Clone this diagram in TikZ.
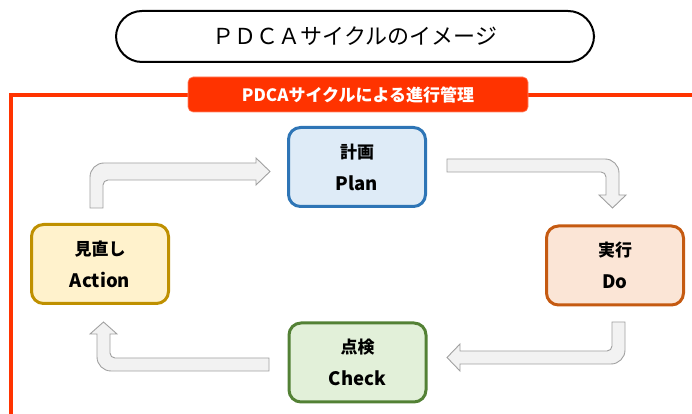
\documentclass[tikz,border=0pt]{standalone}
\usepackage{fontspec}
\setmainfont{Noto Sans CJK JP}
\usetikzlibrary{calc}
\definecolor{frameorange}{HTML}{FF3300}
\definecolor{planfill}{HTML}{DEEBF7}\definecolor{plandraw}{HTML}{2E75B6}
\definecolor{dofill}{HTML}{FBE5D6}\definecolor{dodraw}{HTML}{C55A11}
\definecolor{checkfill}{HTML}{E2F0D9}\definecolor{checkdraw}{HTML}{538135}
\definecolor{actfill}{HTML}{FFF2CC}\definecolor{actdraw}{HTML}{BF9000}
\definecolor{arrfill}{HTML}{F2F2F2}\definecolor{arrdraw}{HTML}{A0A0A0}
\tikzset{
  stagebox/.style={rectangle, rounded corners=12pt, line width=3pt, minimum width=137pt, minimum height=79pt, inner sep=0pt},
  jptext/.style={font=\fontsize{17}{20}\selectfont\bfseries, inner sep=0pt},
  entext/.style={font=\fontsize{18.5}{21}\selectfont\bfseries, inner sep=0pt},
  blockarrow/.style={fill=arrfill, draw=arrdraw, line width=0.9pt, line join=miter},
}
\begin{document}
\begin{tikzpicture}[x=1pt,y=1pt]
\useasboundingbox (0,0) rectangle (692,414);
% title
\node[draw=black, line width=2pt, fill=white, rounded corners=26pt, minimum width=478pt, minimum height=51pt, inner sep=0pt,
  font=\fontsize{22}{25}\selectfont] (title) at (355,377.5) {ＰＤＣＡサイクルのイメージ};
% frame
\draw[frameorange, line width=4pt] (692,319) -- (11,319) -- (11,0);
\node[fill=frameorange, draw=frameorange!60!white, line width=0.6pt, rounded corners=5pt, minimum width=340pt, minimum height=35pt, inner sep=0pt,
  text=white, font=\fontsize{17}{20}\selectfont\bfseries] (label) at (358,319.5) {PDCAサイクルによる進行管理};
% stage boxes
\node[stagebox, fill=planfill, draw=plandraw] (plan) at (357,247) {};
\node[stagebox, fill=dofill, draw=dodraw] (do) at (615,148.5) {};
\node[stagebox, fill=checkfill, draw=checkdraw] (check) at (357.5,51.5) {};
\node[stagebox, fill=actfill, draw=actdraw] (act) at (100,150) {};
\node[jptext] (planjp) at ([yshift=15]plan.center) {計画};
\node[entext] (planen) at ([yshift=-16]plan.center) {Plan};
\node[jptext] (dojp) at ([yshift=15]do.center) {実行};
\node[entext] (doen) at ([yshift=-16]do.center) {Do};
\node[jptext] (checkjp) at ([yshift=15]check.center) {点検};
\node[entext] (checken) at ([yshift=-16]check.center) {Check};
\node[jptext] (actjp) at ([yshift=15]act.center) {見直し};
\node[entext] (acten) at ([yshift=-16]act.center) {Action};
% block arrows
% Action -> Plan
\draw[blockarrow] (90,206) -- (90,237) arc[start angle=180,end angle=90,radius=14] -- (256,251) -- (256,256) -- (270,242.5) -- (256,229) -- (256,234) -- (108,234) arc[start angle=90,end angle=180,radius=5] -- (103,206) -- cycle;
% Plan -> Do
\draw[blockarrow] (447,255) -- (605,255) arc[start angle=90,end angle=0,radius=14] -- (619,219) -- (626,219) -- (612.5,206) -- (599,219) -- (606,219) -- (606,237) arc[start angle=0,end angle=90,radius=5] -- (447,242) -- cycle;
% Do -> Check
\draw[blockarrow] (612,92) -- (612,68) arc[start angle=0,end angle=-90,radius=5] -- (460,63) -- (460,70) -- (447,56.5) -- (460,43) -- (460,50) -- (611,50) arc[start angle=-90,end angle=0,radius=14] -- (625,92) -- cycle;
% Check -> Action
\draw[blockarrow] (269,56) -- (115,56) arc[start angle=270,end angle=180,radius=5] -- (110,80) -- (117,80) -- (103.5,92) -- (90,80) -- (97,80) -- (97,57) arc[start angle=180,end angle=270,radius=14] -- (269,43) -- cycle;
\end{tikzpicture}
\end{document}
